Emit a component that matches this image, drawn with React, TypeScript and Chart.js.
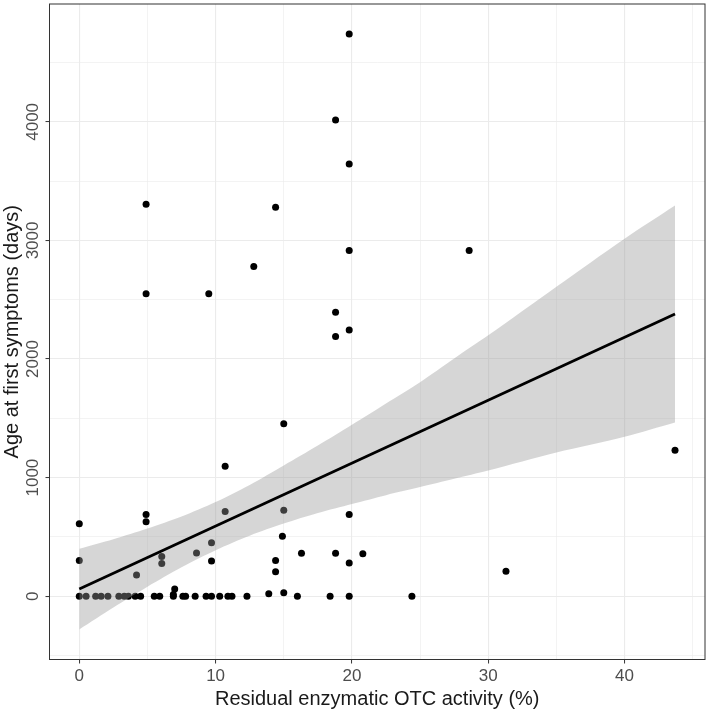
import React, { useEffect, useRef } from 'react';
import { Chart, registerables } from 'chart.js';

Chart.register(...registerables);

// Residual enzymatic OTC activity (%) per patient
const OTC_ACTIVITY = [
  19.8, 18.8, 19.8, 4.9, 14.4, 19.8, 28.6, 12.8, 4.9, 9.5,
  18.8, 19.8, 18.8, 15.0, 43.7, 10.7, 15.0, 10.7, 19.8, 4.9,
  4.9, 0, 14.9, 9.7, 8.6, 16.3, 18.8, 20.8, 6.05, 14.4,
  0, 9.7, 19.8, 6.05, 31.3, 14.4, 4.2,
  7.0, 6.9, 13.9, 15.0,
  0, 0.5, 1.2, 1.6, 2.1, 2.9, 3.3, 3.6, 4.1, 4.5,
  5.5, 5.9, 6.9, 7.6, 7.8, 8.5, 9.3, 9.7, 10.3, 10.9,
  11.2, 12.3, 16.0, 18.4, 19.8, 24.4,
];

// Age at first symptoms (days) per patient
const AGE_DAYS = [
  4740, 4015, 3645, 3305, 3280, 2915, 2915, 2780, 2550, 2550,
  2395, 2245, 2190, 1455, 1230, 1095, 725, 715, 688, 688,
  628, 610, 505, 450, 365, 362, 362, 358, 335, 300,
  300, 297, 280, 275, 210, 207, 178,
  60, 15, 20, 28,
  0, 0, 0, 0, 0, 0, 0, 0, 0, 0,
  0, 0, 0, 0, 0, 0, 0, 0, 0, 0,
  0, 0, 0, 0, 0, 0,
];

// Linear fit line
const FIT_X = [0, 43.7];
const FIT_Y = [60, 2380];

// Confidence band
const BAND_X = [0, 2.5, 5, 7.5, 10, 12.5, 15, 17.5, 20, 22.5, 25, 27.5, 30, 35, 40, 43.7];
const BAND_UPPER = [400, 481, 571, 672, 794, 938, 1102, 1270, 1445, 1625, 1805, 2005, 2200, 2610, 3015, 3295];
const BAND_LOWER = [-280, -95, 80, 244, 388, 510, 612, 701, 777, 852, 920, 990, 1060, 1212, 1345, 1465];

// Grid lines (major ones carry labels)
const X_GRID = [0, 5, 10, 15, 20, 25, 30, 35, 40, 45];
const X_MAJOR = [0, 10, 20, 30, 40];
const Y_GRID = [-500, 0, 500, 1000, 1500, 2000, 2500, 3000, 3500, 4000, 4500];
const Y_MAJOR = [0, 1000, 2000, 3000, 4000];

const X_TITLE = 'Residual enzymatic OTC activity (%)';
const Y_TITLE = 'Age at first symptoms (days)';

const FONT = "'Liberation Sans', Arial, Helvetica, sans-serif";

export default function App() {
  const ref = useRef<HTMLCanvasElement>(null);

  useEffect(() => {
    if (!ref.current) return;

    const panelBorder = {
      id: 'panelBorder',
      afterDatasetsDraw(chart: any) {
        const { ctx, chartArea } = chart;
        const { left, top, right, bottom } = chartArea;
        ctx.save();
        ctx.strokeStyle = '#333333';
        ctx.lineWidth = 1;
        ctx.strokeRect(left, top, right - left, bottom - top);
        ctx.restore();
      },
    };

    const isMajorX = (v: number) => X_MAJOR.includes(v);
    const isMajorY = (v: number) => Y_MAJOR.includes(v);

    const chart = new Chart(ref.current, {
      type: 'scatter',
      data: {
        datasets: [
          {
            type: 'line',
            label: 'fit',
            data: FIT_X.map((x, i) => ({ x, y: FIT_Y[i] })),
            borderColor: '#000000',
            borderWidth: 2.8,
            pointRadius: 0,
            fill: false,
            order: 0,
          } as any,
          {
            type: 'line',
            label: 'upper',
            data: BAND_X.map((x, i) => ({ x, y: BAND_UPPER[i] })),
            borderColor: 'rgba(0,0,0,0)',
            borderWidth: 0,
            pointRadius: 0,
            fill: '+1',
            backgroundColor: 'rgba(153,153,153,0.4)',
            tension: 0.3,
            order: 1,
          } as any,
          {
            type: 'line',
            label: 'lower',
            data: BAND_X.map((x, i) => ({ x, y: BAND_LOWER[i] })),
            borderColor: 'rgba(0,0,0,0)',
            borderWidth: 0,
            pointRadius: 0,
            fill: false,
            tension: 0.3,
            order: 2,
          } as any,
          {
            type: 'scatter',
            label: 'patients',
            data: OTC_ACTIVITY.map((x, i) => ({ x, y: AGE_DAYS[i] })),
            backgroundColor: '#000000',
            borderColor: '#000000',
            borderWidth: 0,
            pointRadius: 3.5,
            order: 3,
          } as any,
        ],
      },
      options: {
        animation: false,
        responsive: true,
        maintainAspectRatio: false,
        devicePixelRatio: 1,
        layout: { padding: { top: 1.5, right: 2.5, left: 0, bottom: 0 } },
        plugins: {
          legend: { display: false },
          tooltip: { enabled: false },
        },
        scales: {
          x: {
            type: 'linear',
            min: -2.185,
            max: 45.9,
            afterBuildTicks: (s: any) => {
              s.ticks = X_GRID.map((v) => ({ value: v }));
            },
            afterFit: (s: any) => {
              s.height = 55.5;
              s.paddingLeft = 0;
              s.paddingRight = 0;
            },
            ticks: {
              autoSkip: false,
              maxRotation: 0,
              minRotation: 0,
              padding: 2.8,
              color: '#4D4D4D',
              font: { family: FONT, size: 17 },
              callback: (v: any) => (isMajorX(Number(v)) ? String(v) : ''),
            },
            grid: {
              color: '#EBEBEB',
              lineWidth: (c: any) => (c.tick && isMajorX(c.tick.value) ? 1.1 : 0.6),
              tickLength: 4,
              tickColor: (c: any) => (c.tick && isMajorX(c.tick.value) ? '#333333' : 'rgba(0,0,0,0)'),
              tickWidth: 1,
            },
            border: { display: false },
            title: {
              display: true,
              text: X_TITLE,
              color: '#1a1a1a',
              font: { family: FONT, size: 20 },
              padding: { top: 0, bottom: 4 },
            },
          } as any,
          y: {
            type: 'linear',
            min: -534,
            max: 4994,
            afterBuildTicks: (s: any) => {
              s.ticks = Y_GRID.map((v) => ({ value: v }));
            },
            afterFit: (s: any) => {
              s.width = 49.5;
              s.paddingTop = 0;
              s.paddingBottom = 0;
            },
            ticks: {
              autoSkip: false,
              minRotation: 90,
              maxRotation: 90,
              crossAlign: 'center',
              padding: -6.9,
              color: '#4D4D4D',
              font: { family: FONT, size: 17 },
              callback: (v: any) => (isMajorY(Number(v)) ? String(v) : ''),
            },
            grid: {
              color: '#EBEBEB',
              lineWidth: (c: any) => (c.tick && isMajorY(c.tick.value) ? 1.1 : 0.6),
              tickLength: 4,
              tickColor: (c: any) => (c.tick && isMajorY(c.tick.value) ? '#333333' : 'rgba(0,0,0,0)'),
              tickWidth: 1,
            },
            border: { display: false },
            title: {
              display: true,
              text: Y_TITLE,
              color: '#1a1a1a',
              font: { family: FONT, size: 20 },
              padding: { top: 0, bottom: 0 },
            },
          } as any,
        },
      },
      plugins: [panelBorder],
    } as any);

    return () => chart.destroy();
  }, []);

  return (
    <div
      style={{
        position: 'absolute',
        left: 0,
        top: 0,
        width: 709,
        height: 715,
        background: '#ffffff',
      }}
    >
      <canvas ref={ref} style={{ display: 'block' }} />
    </div>
  );
}
